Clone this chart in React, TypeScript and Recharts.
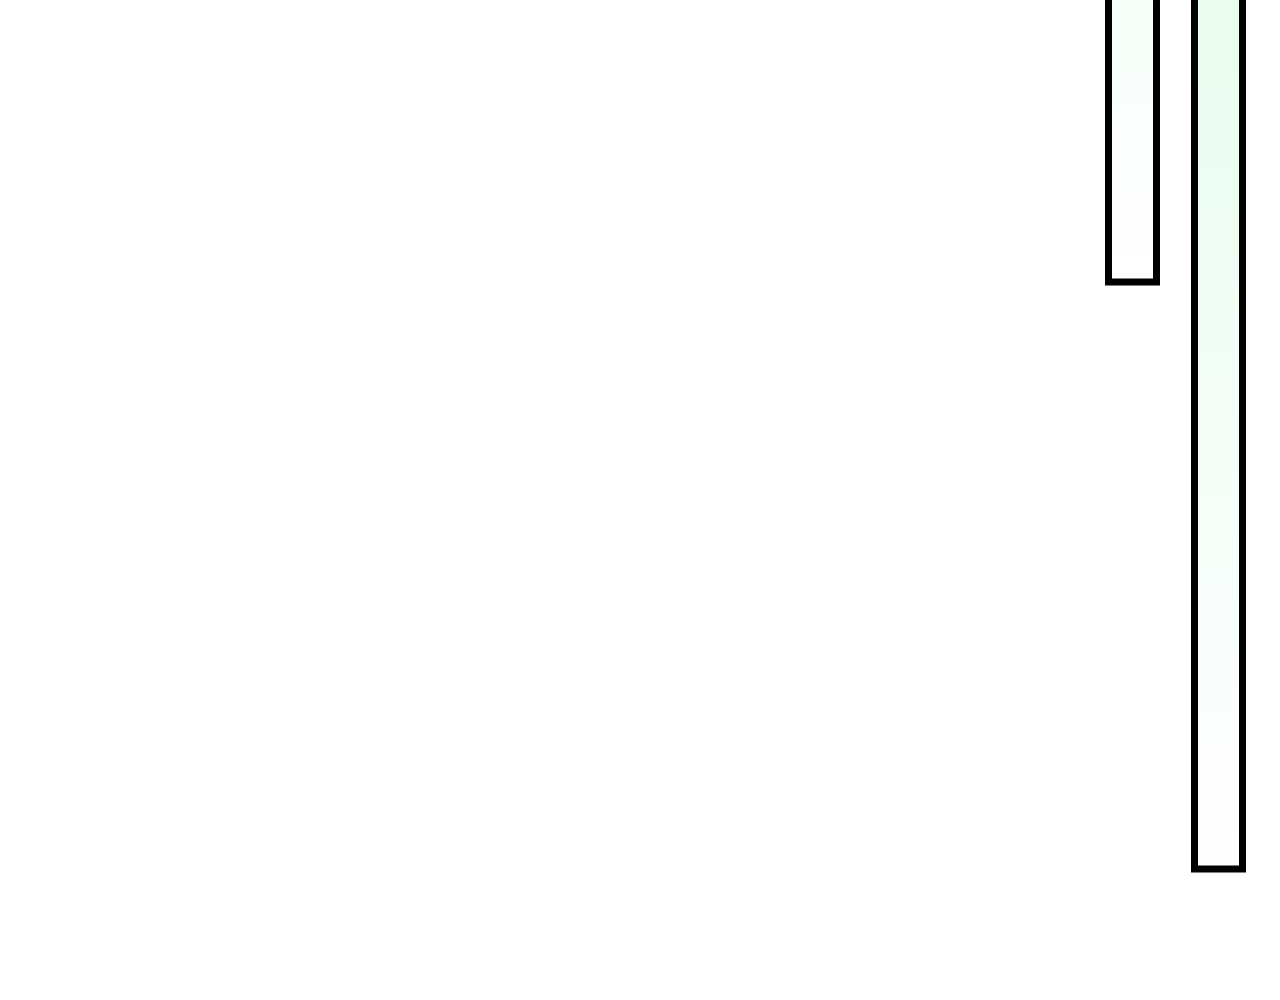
import { BarChart, Bar, XAxis, YAxis, Cell } from 'recharts';

const CATEGORIES = ['A', 'B'];
const VALUES = [30, 88.7];
const GRADIENT_TOPS = ['#f5fff8', '#e7fdee'];

const data = CATEGORIES.map((name, i) => ({ name, value: VALUES[i] }));

export default function App() {
  return (
    <div
      style={{
        position: 'absolute',
        top: 0,
        left: 0,
        width: 1280,
        height: 1000,
        overflow: 'hidden',
        background: '#ffffff',
      }}
    >
      <div style={{ marginTop: -18 }}>
        <BarChart
          width={1280}
          height={1000}
          data={data}
          margin={{ top: 0, right: 18.5, bottom: 0, left: 1089.5 }}
        >
          <defs>
            {GRADIENT_TOPS.map((c, i) => (
              <linearGradient key={i} id={`barGrad${i}`} x1="0" y1="0" x2="0" y2="1">
                <stop offset="0%" stopColor={c} />
                <stop offset="100%" stopColor="#ffffff" />
              </linearGradient>
            ))}
          </defs>
          <XAxis dataKey="name" hide />
          <YAxis hide reversed domain={[0, 100]} />
          <Bar
            dataKey="value"
            barSize={48}
            stroke="#000000"
            strokeWidth={7}
            isAnimationActive={false}
          >
            {data.map((_, i) => (
              <Cell key={i} fill={`url(#barGrad${i})`} />
            ))}
          </Bar>
        </BarChart>
      </div>
    </div>
  );
}
